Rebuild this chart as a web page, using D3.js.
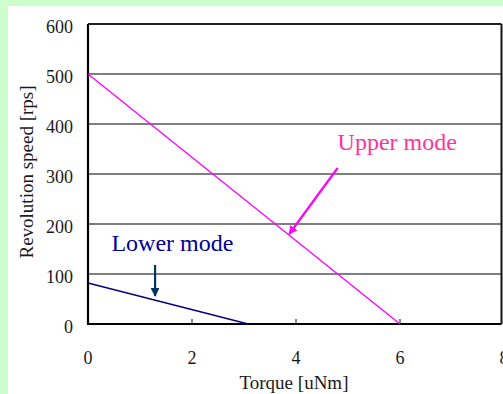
<!DOCTYPE html>
<html>
<head>
<meta charset="utf-8">
<script src="https://cdn.jsdelivr.net/npm/d3@7"></script>
<style>
  html, body { margin: 0; padding: 0; background: #ccffcc; overflow: hidden; }
  svg { display: block; }
  text { font-family: "Liberation Serif", "Times New Roman", serif; }
</style>
</head>
<body>
<div id="chart"></div>
<script>
/************************
 *  Data
 ************************/
const xTicks = [0, 2, 4, 6, 8];
const yTicks = [0, 100, 200, 300, 400, 500, 600];

// torque [uNm] -> revolution speed [rps]
const upperTorque = [0, 6];
const upperSpeed = [500, 0];
const lowerTorque = [0, 3.08];
const lowerSpeed = [82, 0];

// annotation labels and arrows, in data units
const labelNames = ["Upper mode", "Lower mode"];
const labelAt = [[4.8, 348], [0.45, 146]];
const arrowFrom = [[4.8, 312], [1.29, 118]];
const arrowTo = [[3.87, 180], [1.29, 56]];

/************************
 *  Setup
 ************************/
const width = 503;
const height = 394;
const margin = { top: 24, right: 1, bottom: 70, left: 88 };

const svg = d3.select("#chart")
  .append("svg")
  .attr("width", width)
  .attr("height", height);

// white panel on green background
svg.append("rect")
  .attr("x", 8).attr("y", 6)
  .attr("width", width).attr("height", height)
  .style("fill", "white");

const x = d3.scaleLinear().domain([0, 8]).range([margin.left, width - margin.right + 2]);
const y = d3.scaleLinear().domain([0, 600]).range([height - margin.bottom, margin.top]);

/************************
 *  Grid & axes
 ************************/
svg.selectAll(".grid")
  .data(yTicks.filter(d => d > 0))
  .enter()
  .append("line")
  .attr("class", "grid")
  .attr("x1", x(0)).attr("x2", width - 1.5)
  .attr("y1", d => y(d)).attr("y2", d => y(d))
  .style("stroke", d => d === 600 ? "#222" : "#555")
  .style("stroke-width", d => d === 600 ? 2 : 1.3);

// right border
svg.append("line")
  .attr("x1", width - 1.5).attr("x2", width - 1.5)
  .attr("y1", y(600)).attr("y2", y(0))
  .style("stroke", "#111").style("stroke-width", 2);

// x ticks pointing inward
svg.selectAll(".xtick")
  .data(xTicks.slice(1, -1))
  .enter()
  .append("line")
  .attr("x1", d => x(d)).attr("x2", d => x(d))
  .attr("y1", y(0)).attr("y2", y(0) - 5)
  .style("stroke", "#111").style("stroke-width", 1);

// left and bottom axes
svg.append("line")
  .attr("x1", x(0)).attr("x2", x(0))
  .attr("y1", y(600)).attr("y2", y(0) + 1)
  .style("stroke", "black").style("stroke-width", 2.2);
svg.append("line")
  .attr("x1", x(0) - 1).attr("x2", width - 1.5)
  .attr("y1", y(0)).attr("y2", y(0))
  .style("stroke", "black").style("stroke-width", 2.2);

svg.selectAll(".ylabel")
  .data(yTicks)
  .enter()
  .append("text")
  .attr("x", 73)
  .attr("y", d => y(d) + 9)
  .style("text-anchor", "end")
  .style("font-size", "18px")
  .style("fill", "#1a1a1a")
  .text(d => d);

svg.selectAll(".xlabel")
  .data(xTicks)
  .enter()
  .append("text")
  .attr("x", d => x(d))
  .attr("y", 364)
  .style("text-anchor", "middle")
  .style("font-size", "18px")
  .style("fill", "#1a1a1a")
  .text(d => d);

svg.append("text")
  .attr("x", 294)
  .attr("y", 389)
  .style("text-anchor", "middle")
  .style("font-size", "19px")
  .style("fill", "#1a1a1a")
  .text("Torque [uNm]");

svg.append("text")
  .attr("transform", "translate(33,172) rotate(-90)")
  .style("text-anchor", "middle")
  .style("font-size", "19px")
  .style("fill", "#1a1a1a")
  .text("Revolution speed [rps]");

/************************
 *  Lines
 ************************/
const line = d3.line().x(d => x(d[0])).y(d => y(d[1]));

svg.append("path")
  .datum(upperTorque.map((t, i) => [t, upperSpeed[i]]))
  .attr("d", line)
  .style("fill", "none")
  .style("stroke", "#ff00ff")
  .style("stroke-width", 1.3);

svg.append("path")
  .datum(lowerTorque.map((t, i) => [t, lowerSpeed[i]]))
  .attr("d", line)
  .style("fill", "none")
  .style("stroke", "#000080")
  .style("stroke-width", 1.3);

/************************
 *  Annotations
 ************************/
const labelColors = ["#ff3399", "#000099"];
const arrowColors = ["#ff00ff", "#003366"];

const defs = svg.append("defs");
arrowColors.forEach((c, i) => {
  defs.append("marker")
    .attr("id", "head" + i)
    .attr("viewBox", "0 0 10 10")
    .attr("refX", 9).attr("refY", 5)
    .attr("markerWidth", 4).attr("markerHeight", 4)
    .attr("markerUnits", "strokeWidth")
    .attr("orient", "auto")
    .append("path")
    .attr("d", "M0,0 L10,5 L0,10 Z")
    .style("fill", c);
});

labelNames.forEach((name, i) => {
  svg.append("text")
    .attr("x", x(labelAt[i][0]))
    .attr("y", y(labelAt[i][1]))
    .style("font-size", "24px")
    .style("fill", labelColors[i])
    .text(name);

  svg.append("line")
    .attr("x1", x(arrowFrom[i][0])).attr("y1", y(arrowFrom[i][1]))
    .attr("x2", x(arrowTo[i][0])).attr("y2", y(arrowTo[i][1]))
    .style("stroke", arrowColors[i])
    .style("stroke-width", 2.2)
    .attr("marker-end", `url(#head${i})`);
});
</script>
</body>
</html>
